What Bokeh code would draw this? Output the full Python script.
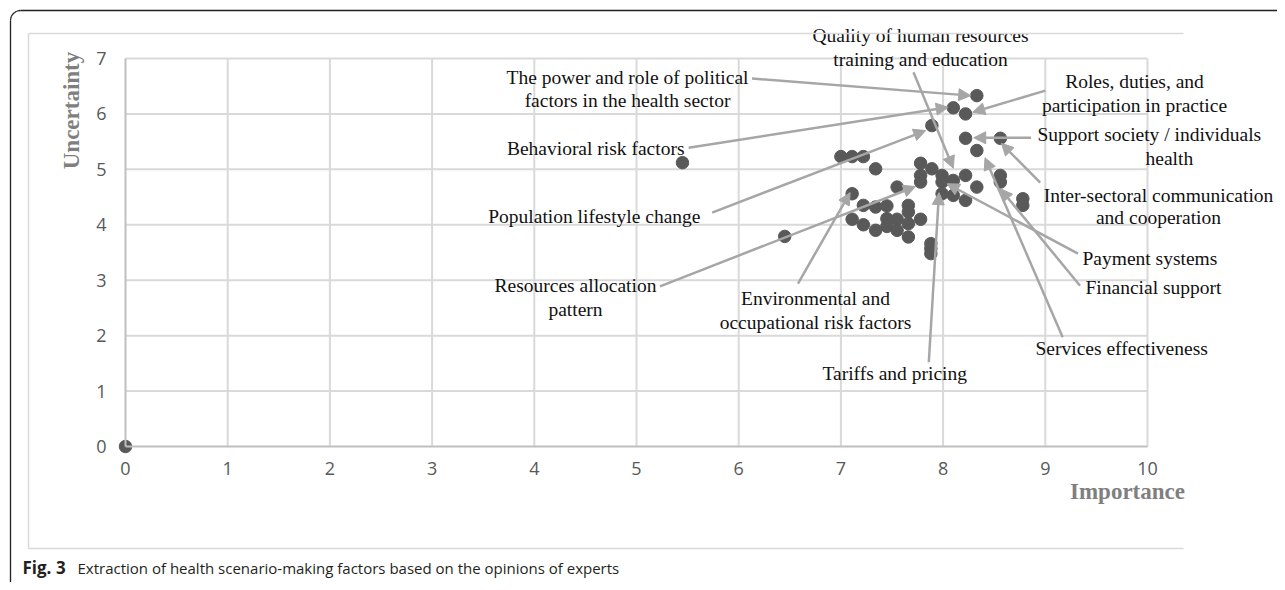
from bokeh.plotting import figure
from bokeh.models import Label, Arrow, NormalHead, Range1d, ColumnDataSource
from bokeh.embed import file_html
from bokeh.resources import INLINE
import numpy as np

# ---------------- data ----------------
importance = [0.00, 5.45, 6.45,
              7.00, 7.11, 7.22, 7.34, 7.78, 7.89, 7.78, 7.78, 7.99, 7.99, 7.99,
              7.55, 7.11, 7.22, 7.34, 7.45, 7.66, 7.66, 7.11, 7.22, 7.34, 7.45,
              7.45, 7.55, 7.55, 7.66, 7.66, 7.78, 7.88, 7.88, 7.88,
              8.33, 8.10, 8.22, 7.89, 8.22, 8.56, 8.33, 8.22, 8.10, 8.10, 8.22,
              8.33, 8.56, 8.56, 8.78, 8.78]
uncertainty = [0.00, 5.12, 3.79,
               5.23, 5.23, 5.23, 5.01, 5.11, 5.01, 4.89, 4.77, 4.89, 4.77, 4.56,
               4.68, 4.56, 4.35, 4.32, 4.34, 4.35, 4.23, 4.10, 4.00, 3.90, 4.11,
               3.97, 4.10, 3.90, 4.02, 3.78, 4.10, 3.66, 3.57, 3.48,
               6.33, 6.11, 6.00, 5.79, 5.56, 5.56, 5.34, 4.89, 4.80, 4.53, 4.44,
               4.68, 4.89, 4.77, 4.47, 4.35]

x_ticks = [0, 1, 2, 3, 4, 5, 6, 7, 8, 9, 10]
y_ticks = [0, 1, 2, 3, 4, 5, 6, 7]

factor_lines = [
    ["Quality of human resources", "training and education"],
    ["The power and role of political", "factors in the health sector"],
    ["Roles, duties, and", "participation in practice"],
    ["Behavioral risk factors"],
    ["Support society / individuals"],
    ["Inter-sectoral communication", "and cooperation"],
    ["Population lifestyle change"],
    ["Payment systems"],
    ["Financial support"],
    ["Services effectiveness"],
    ["Resources allocation", "pattern"],
    ["Environmental and", "occupational risk factors"],
    ["Tariffs and pricing"],
]
# arrow start / tip (data units)
arrow_x0 = [7.71, 6.13, 9.00, 5.51, 8.86, 8.95, 5.74, 9.32, 9.34, 9.17, 5.23, 6.58, 7.86]
arrow_y0 = [6.75, 6.64, 6.42, 5.39, 5.57, 4.76, 4.22, 3.48, 2.90, 1.97, 2.89, 2.94, 1.52]
arrow_x1 = [8.10, 8.27, 8.29, 8.05, 8.30, 8.57, 7.83, 8.04, 8.56, 8.41, 7.73, 7.09, 7.96]
arrow_y1 = [5.02, 6.33, 6.03, 6.12, 5.57, 5.47, 5.70, 4.74, 4.65, 5.21, 4.69, 4.58, 4.58]

# ---------------- layout (page pixels) ----------------
W, H = 1277, 582
X0_PX, X_PER = 125.0, 102.2      # pixel of x=0, pixels per unit
Y0_PX, Y_PER = 446.0, 55.43      # pixel of y=0, pixels per unit


def dx(px):
    return (px - X0_PX) / X_PER


def dy(py):
    return (Y0_PX - py) / Y_PER


label_place = [  # (x px, align, [y px per line])
    (920, "center", [35, 59]),
    (627, "center", [77, 100]),
    (1134, "center", [81, 105]),
    (684, "right", [148]),
    (1037, "left", [134]),
    (1158, "center", [195, 217]),
    (700, "right", [216]),
    (1082, "left", [258]),
    (1085, "left", [287]),
    (1035, "left", [348]),
    (575, "center", [285, 309]),
    (815, "center", [298, 322]),
    (822, "left", [373]),
]

p = figure(width=W, height=H, output_backend="svg", toolbar_location=None,
           x_range=Range1d(dx(0), dx(W)), y_range=Range1d(dy(H), dy(0)),
           min_border=0)
p.outline_line_color = None
p.grid.visible = False
p.background_fill_color = "white"
p.border_fill_color = "white"

p.xaxis.ticker = x_ticks
p.yaxis.ticker = y_ticks
p.xaxis.fixed_location = 0
p.yaxis.fixed_location = 0
p.xaxis.bounds = (x_ticks[0], x_ticks[-1])
p.yaxis.bounds = (y_ticks[0], y_ticks[-1])
for ax in (p.xaxis, p.yaxis):
    ax.axis_line_color = "#bfbfbf"
    ax.axis_line_width = 2
    ax.major_tick_line_color = None
    ax.minor_tick_line_color = None
    ax.major_tick_out = 0
    ax.major_tick_in = 0
    ax.major_label_text_font = "Open Sans"
    ax.major_label_text_font_size = "18px"
    ax.major_label_text_color = "#595959"
p.xaxis.major_label_standoff = 15
p.yaxis.major_label_standoff = 19

# gridlines bounded to the data area
GRID = "#d9d9d9"
p.segment(x0=x_ticks[1:], y0=[y_ticks[0]] * 10, x1=x_ticks[1:], y1=[y_ticks[-1]] * 10,
          line_color=GRID, line_width=2)
p.segment(x0=[x_ticks[0]] * 7, y0=y_ticks[1:], x1=[x_ticks[-1]] * 7, y1=y_ticks[1:],
          line_color=GRID, line_width=2)

# points
p.scatter(importance, uncertainty, size=12.5, fill_color="#595959", line_color="#595959")

# arrows
GRAY = "#a6a6a6"
src = ColumnDataSource(dict(x0=arrow_x0, y0=arrow_y0, x1=arrow_x1, y1=arrow_y1))
p.add_layout(Arrow(source=src, x_start="x0", y_start="y0", x_end="x1", y_end="y1",
                   line_color=GRAY, line_width=2.5,
                   end=NormalHead(size=12, fill_color=GRAY, line_color=GRAY, line_width=1)))

SERIF = "Liberation Serif"
TXT = "#111111"
for lines, (lx, align, ys) in zip(factor_lines, label_place):
    for t, ly in zip(lines, ys):
        p.add_layout(Label(x=dx(lx), y=dy(ly), text=t, text_align=align, text_baseline="middle",
                           text_font=SERIF, text_font_size="19.5px", text_color=TXT))
p.add_layout(Label(x=dx(1145), y=dy(158), text="health", text_align="left", text_baseline="middle",
                   text_font=SERIF, text_font_size="19.5px", text_color=TXT))

# axis titles
p.add_layout(Label(x=dx(1127), y=dy(491), text="Importance", text_align="center",
                   text_baseline="middle", text_font=SERIF, text_font_style="bold",
                   text_font_size="23px", text_color="#7f7f7f"))
p.add_layout(Label(x=dx(71), y=dy(110), text="Uncertainty", angle=np.pi / 2, text_align="center",
                   text_baseline="middle", text_font=SERIF, text_font_style="bold",
                   text_font_size="23px", text_color="#7f7f7f"))

# chart-area border (light gray): top, left, bottom
BL, BR, BT, BB = dx(28), dx(1183), dy(33), dy(548)
bsrc = ColumnDataSource(dict(x0=[BL, BL, BL], y0=[BT, BT, BB], x1=[BR, BL, BR], y1=[BT, BB, BB]))
p.add_layout(Arrow(source=bsrc, x_start="x0", y_start="y0", x_end="x1", y_end="y1",
                   start=None, end=None, line_color="#d9d9d9", line_width=1.5))

# outer figure frame (black, rounded top-left corner)
rpx = 10
th = np.linspace(0, np.pi / 2, 8)
ax_ = [dx(10 + rpx - rpx * np.cos(t)) for t in th]
ay_ = [dy(10 + rpx - rpx * np.sin(t)) for t in th]
sx0 = ax_[:-1] + [dx(10 + rpx), dx(10)]
sy0 = ay_[:-1] + [dy(10), dy(10 + rpx)]
sx1 = ax_[1:] + [dx(W), dx(10)]
sy1 = ay_[1:] + [dy(10), dy(H)]
fsrc = ColumnDataSource(dict(x0=sx0, y0=sy0, x1=sx1, y1=sy1))
p.add_layout(Arrow(source=fsrc, x_start="x0", y_start="y0", x_end="x1", y_end="y1",
                   start=None, end=None, line_color="#231f20", line_width=1.3))

# caption
p.add_layout(Label(x=dx(22), y=dy(567), text="Fig. 3", text_align="left", text_baseline="middle",
                   text_font="Open Sans", text_font_style="bold", text_font_size="17px",
                   text_color="#231f20"))
p.add_layout(Label(x=dx(77), y=dy(567),
                   text="Extraction of health scenario-making factors based on the opinions of experts",
                   text_align="left", text_baseline="middle", text_font="Open Sans",
                   text_font_size="15px", text_color="#231f20"))

open("out.html", "w").write(file_html(p, INLINE))
